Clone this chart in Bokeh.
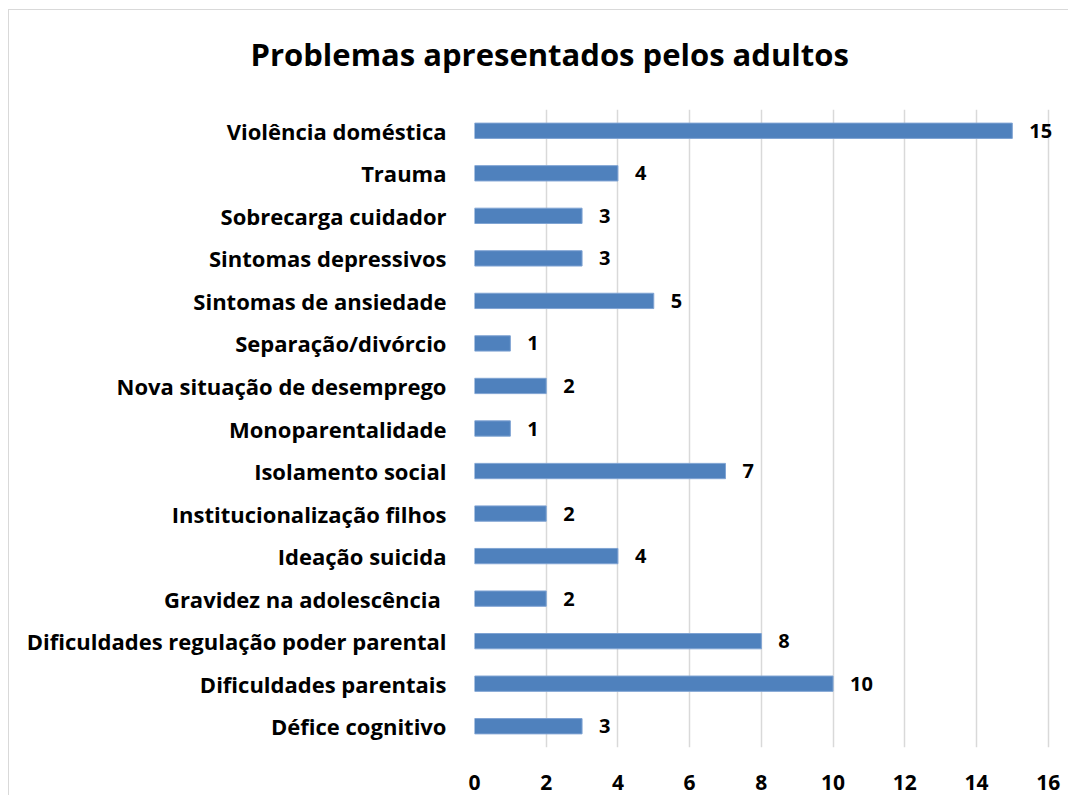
from bokeh.plotting import figure
from bokeh.models import FactorRange, Range1d, ColumnDataSource, FixedTicker, Title
from bokeh.embed import file_html
from bokeh.resources import INLINE
from bokeh.core.properties import value

categories = [
    "Violência doméstica",
    "Trauma",
    "Sobrecarga cuidador",
    "Sintomas depressivos",
    "Sintomas de ansiedade",
    "Separação/divórcio",
    "Nova situação de desemprego",
    "Monoparentalidade",
    "Isolamento social",
    "Institucionalização filhos",
    "Ideação suicida",
    "Gravidez  na adolescência",
    "Dificuldades regulação poder parental",
    "Dificuldades parentais",
    "Défice cognitivo",
]
values = [15, 4, 3, 3, 5, 1, 2, 1, 7, 2, 4, 2, 8, 10, 3]
x_ticks = [0, 2, 4, 6, 8, 10, 12, 14, 16]
title_text = "Problemas apresentados pelos adultos"

FONT = "Open Sans"
W, H = 1060, 786
ML, MT, MB, MR = 465, 99, 49, 7

src = ColumnDataSource(dict(cat=categories, val=values, lab=[str(v) for v in values]))

p = figure(
    width=W, height=H, title=title_text,
    y_range=FactorRange(factors=list(reversed(categories))),
    x_range=Range1d(0, 16.4),
    output_backend="svg", toolbar_location=None,
    min_border_left=ML, min_border_right=MR, min_border_top=MT, min_border_bottom=MB,
)
p.styles = {"border-left": "1px solid #d9d9d9", "border-top": "1px solid #d9d9d9",
            "margin-left": "8px", "margin-top": "9px"}
p.outline_line_color = None

p.title.text_font = FONT
p.title.text_font_style = "bold"
p.title.text_font_size = "31px"
p.title.text_color = "black"
p.title.align = "left"
p.title.offset = -224
p.title.vertical_align = "middle"

# empty spacer between title and plot frame
p.add_layout(Title(text=" ", text_font_size="16px", standoff=10), "above")

p.hbar(y="cat", right="val", left=0, height=0.36, source=src,
       fill_color="#4F81BD", line_color="#7FA3D3", line_width=1)

p.text(x="val", y="cat", text="lab", source=src, x_offset=17,
       text_align="left", text_baseline="middle",
       text_font=value(FONT), text_font_style="bold", text_font_size="20px",
       text_color="black")

p.xaxis.ticker = FixedTicker(ticks=x_ticks)
p.xaxis.axis_line_color = None
p.xaxis.major_tick_line_color = None
p.xaxis.minor_tick_line_color = None
p.xaxis.major_label_text_font = FONT
p.xaxis.major_label_text_font_style = "bold"
p.xaxis.major_label_text_font_size = "21px"
p.xaxis.major_label_text_color = "black"
p.xaxis.major_label_standoff = 21

p.yaxis.axis_line_color = None
p.yaxis.major_tick_line_color = None
p.yaxis.minor_tick_line_color = None
p.yaxis.major_label_text_font = FONT
p.yaxis.major_label_text_font_style = "bold"
p.yaxis.major_label_text_font_size = "22px"
p.yaxis.major_label_text_color = "black"
p.yaxis.major_label_standoff = 22

p.ygrid.grid_line_color = None
p.xgrid.grid_line_color = "#d9d9d9"
p.xgrid.grid_line_width = 1.5

open("out.html", "w").write(file_html(p, INLINE))
